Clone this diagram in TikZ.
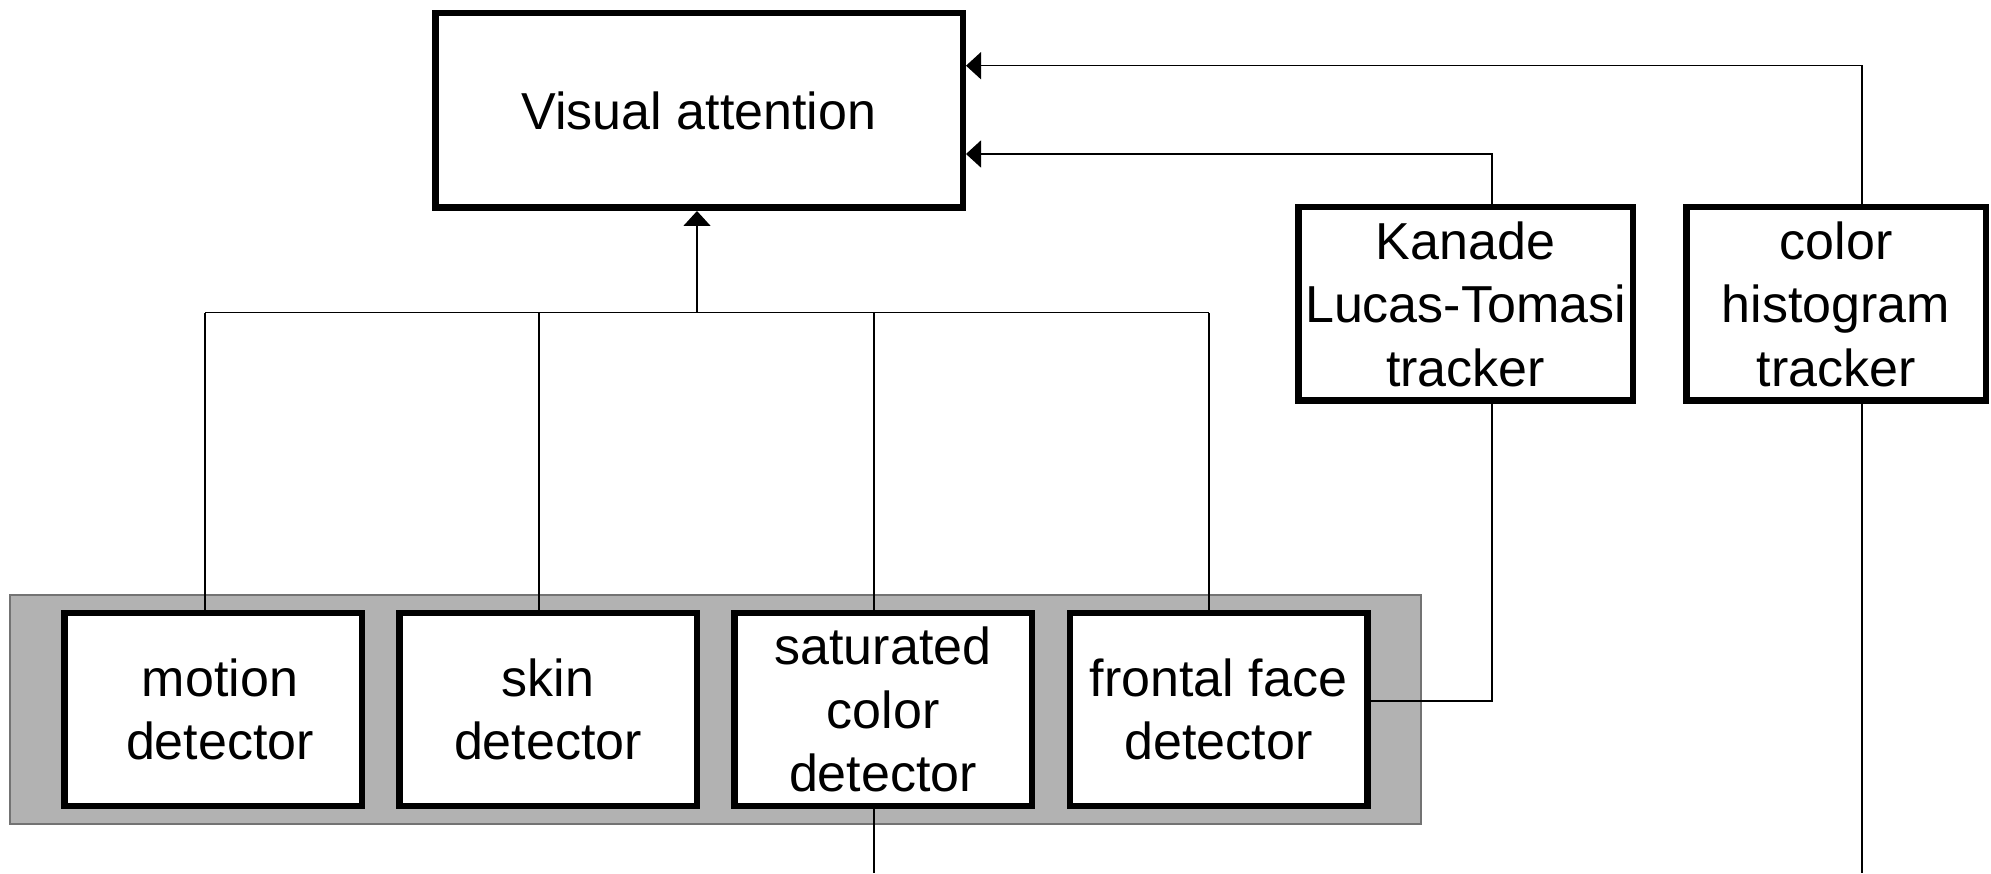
\documentclass[tikz,border=0pt]{standalone}
\usepackage{fontspec}
\setmainfont{Liberation Sans}
\usetikzlibrary{arrows.meta,calc}
\begin{document}
\begin{tikzpicture}[x=1pt,y=1pt,
  box/.style={draw=black,line width=6.5pt,fill=white,inner sep=0pt,align=center,
    font=\fontsize{52}{63.5}\selectfont},
  conn/.style={draw=black,line width=1.6pt},
  arr/.style={conn,-{Triangle[length=15pt,width=27pt]}}
]
\useasboundingbox (0,0) rectangle (1991,873);
\fill[white] (0,0) rectangle (1991,873);
% grey panel
\node[draw=black!55,line width=1.5pt,fill=black!30,minimum width=1411pt,minimum height=229pt,inner sep=0pt] (panel) at (715.5,163.5) {};
% boxes
\node[box,minimum width=527.5pt,minimum height=194.5pt] (va) at (699,762.5) {Visual attention};
\node[box,minimum width=334.5pt,minimum height=193.5pt] (klt) at (1465.5,569) {Kanade\\Lucas-Tomasi\\tracker};
\node[box,minimum width=299.5pt,minimum height=193.5pt] (cht) at (1836,569) {color\\histogram\\tracker};
\node[box,minimum width=297.5pt,minimum height=192.5pt] (mot) at (213,163.5) {\hspace*{14pt}motion\\\hspace*{14pt}detector};
\node[box,minimum width=297.5pt,minimum height=192.5pt] (skin) at (548,163.5) {skin\\detector};
\node[box,minimum width=297.5pt,minimum height=192.5pt] (sat) at (883,163.5) {saturated\\color\\detector};
\node[box,minimum width=297.5pt,minimum height=192.5pt] (ff) at (1218.5,163.5) {frontal face\\detector};
% bus
\coordinate (busL) at (205,560.3);
\coordinate (busR) at (1209,560.3);
\coordinate (busM) at (697,560.3);
\draw[conn] (busL) -- (busR);
\draw[conn] ([xshift=-8pt]mot.north) -- (mot.north -| busL) -- (busL);
\draw[conn] ([xshift=-9pt]skin.north) -- ([xshift=-9pt]skin.north |- busL);
\draw[conn] ([xshift=-9pt]sat.north) -- ([xshift=-9pt]sat.north |- busL);
\draw[conn] ([xshift=-9.5pt]ff.north) -- ([xshift=-9.5pt]ff.north |- busL);
\draw[arr] (busM) -- ([xshift=-2pt]va.south);
% trackers to visual attention
\draw[arr] ([xshift=26.5pt]klt.north) |- ([yshift=-43.5pt]va.east);
\draw[arr] ([xshift=26pt]cht.north) |- ([yshift=44.8pt]va.east);
% frontal face to KLT
\draw[conn] ([yshift=8.5pt]ff.east) -| ([xshift=26.5pt]klt.south);
% free ends at the bottom
\coordinate (satEnd) at ([xshift=-9pt]sat.south |- 0,0);
\coordinate (chtEnd) at ([xshift=26pt]cht.south |- 0,0);
\draw[conn] ([xshift=-9pt]sat.south) -- (satEnd);
\draw[conn] ([xshift=26pt]cht.south) -- (chtEnd);
\end{tikzpicture}
\end{document}
